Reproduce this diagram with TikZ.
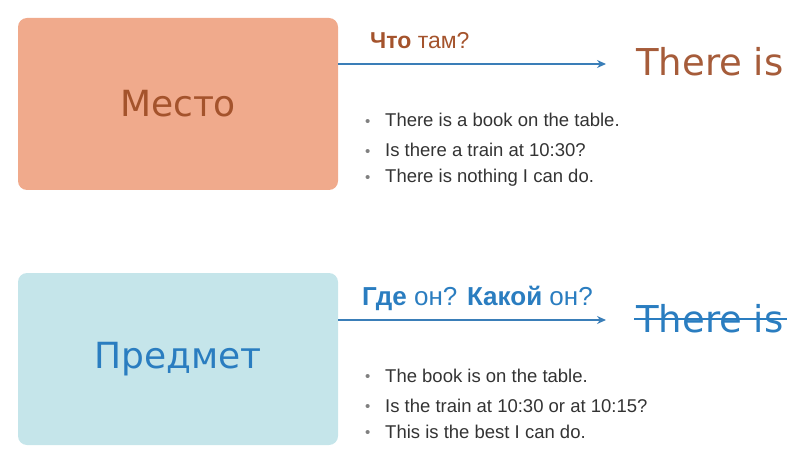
\documentclass[tikz,border=0pt]{standalone}
\usepackage{fontspec}
\setmainfont{Liberation Sans}
\newfontfamily\labelfont{DejaVu Sans}
\usetikzlibrary{arrows.meta,positioning}
\definecolor{placefill}{HTML}{F0AA8C}
\definecolor{placetext}{HTML}{A4532C}
\definecolor{thingfill}{HTML}{C5E5EA}
\definecolor{thingtext}{HTML}{2A7DC0}
\definecolor{arrowblue}{HTML}{3A7EB8}
\definecolor{listgray}{HTML}{333333}
\definecolor{therebrown}{HTML}{A65C3A}
\tikzset{>={Stealth[length=9pt,width=8pt]},x=1pt,y=-1pt}
\tikzset{
    topic/.style={rounded corners=9pt,minimum width=320pt,minimum height=172pt,
        font=\labelfont\fontsize{36}{40}\selectfont},
    there/.style={anchor=base west,inner sep=0pt,font=\labelfont\fontsize{37}{40}\selectfont},
    question/.style={anchor=base west,inner sep=0pt},
    example/.style={anchor=base west,inner sep=0pt,text=listgray,font=\fontsize{18.5}{20}\selectfont},
    link/.style={->,line width=1.4pt,draw=arrowblue}
}
\newcommand{\bul}[1]{\makebox[20pt][l]{\textcolor{gray}{\fontsize{15}{15}\selectfont\raisebox{0.5pt}{\textbullet}}}#1}
\begin{document}
\begin{tikzpicture}
    \useasboundingbox (0,0) rectangle (800,465);
    % left boxes
    \node[topic,fill=placefill,text=placetext] (mesto) at (178,104) {Место};
    \node[topic,fill=thingfill,text=thingtext] (predmet) at (178,359) {Предмет};
    % right-hand words
    \node[there,text=therebrown] (thereA) at (636,76) {There is};
    \node[there,text=thingtext] (thereB) at (636,332) {There is};
    \draw[thingtext,line width=1.4pt] ([xshift=-2pt,yshift=13pt]thereB.base west) -- ([xshift=3pt,yshift=13pt]thereB.base east);
    % arrows
    \coordinate (endA) at (606,64);
    \coordinate (endB) at (606,320);
    \draw[link] (mesto.east |- endA) -- (endA);
    \draw[link] (predmet.east |- endB) -- (endB);
    % questions
    \node[question,text=placetext,font=\fontsize{23}{26}\selectfont] (askA) at (370,49) {\textbf{Что} там?};
    \node[question,text=thingtext,font=\fontsize{26}{28}\selectfont] (askB) at (362,305) {\textbf{Где} он? \textbf{Какой} он?};
    % examples
    \node[example] (exA1) at (365,127) {\bul{There is a book on the table.}};
    \node[example] (exA2) at (365,157) {\bul{Is there a train at 10:30?}};
    \node[example] (exA3) at (365,183) {\bul{There is nothing I can do.}};
    \node[example] (exB1) at (365,382) {\bul{The book is on the table.}};
    \node[example] (exB2) at (365,412) {\bul{Is the train at 10:30 or at 10:15?}};
    \node[example] (exB3) at (365,438) {\bul{This is the best I can do.}};
\end{tikzpicture}
\end{document}
